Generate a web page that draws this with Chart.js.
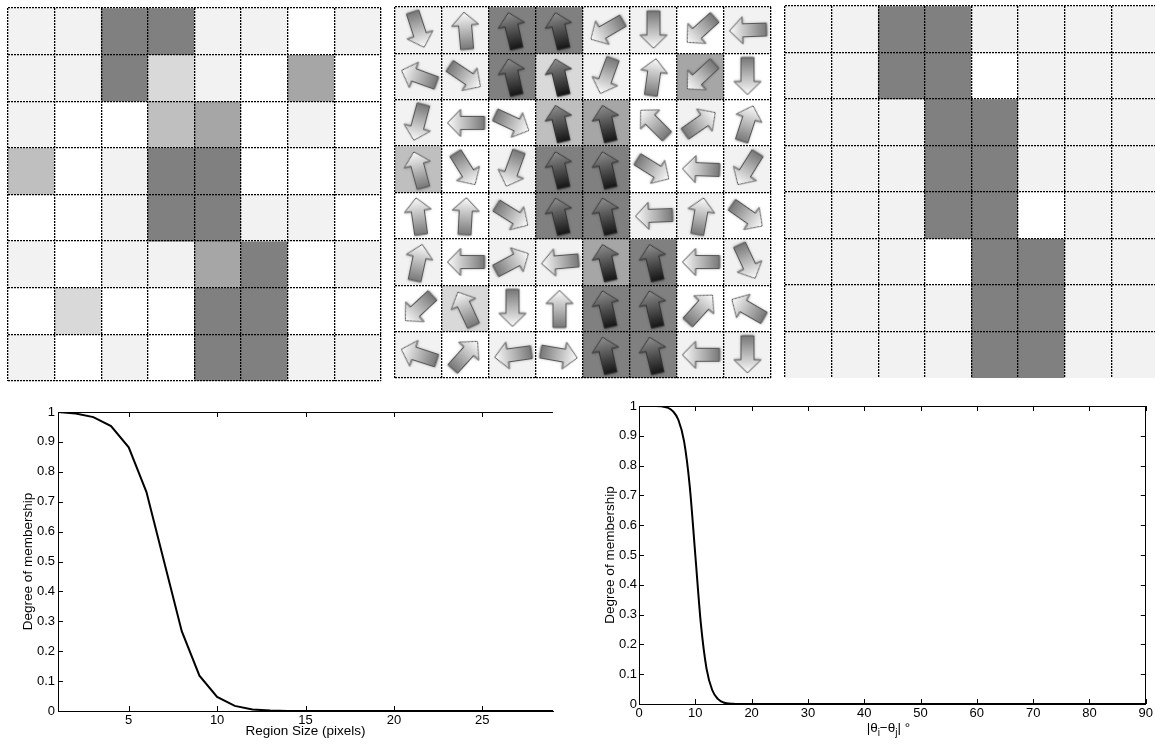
<!DOCTYPE html>
<html>
<head>
<meta charset="utf-8">
<script src="https://cdn.jsdelivr.net/npm/chart.js@4.4.1/dist/chart.umd.min.js"></script>
<style>
  html, body { margin: 0; padding: 0; background: #fff; overflow: hidden; }
  body { width: 1155px; height: 745px; position: relative; }
  canvas { position: absolute; }
</style>
</head>
<body>
<canvas id="grid-membership" width="390" height="390" style="left:0;top:0"></canvas>
<canvas id="grid-orient" width="392" height="390" style="left:387px;top:0"></canvas>
<canvas id="grid-result" width="390" height="390" style="left:777px;top:0"></canvas>
<canvas id="size-curve" width="560" height="350" style="left:0;top:395px"></canvas>
<canvas id="angle-curve" width="575" height="350" style="left:580px;top:395px"></canvas>
<script>
// grid columns (8x8 cells)
const gridCols = ['c1', 'c2', 'c3', 'c4', 'c5', 'c6', 'c7', 'c8'];

// darkness of each cell, 0 = white, 0.5 = mid grey
const membershipGrid = [
    [0.05, 0.05, 0.5, 0.5, 0.05, 0.05, 0, 0.05],
    [0.05, 0.05, 0.5, 0.15, 0.05, 0, 0.35, 0],
    [0.05, 0, 0, 0.25, 0.35, 0, 0.05, 0],
    [0.25, 0, 0.05, 0.5, 0.5, 0, 0, 0.05],
    [0, 0, 0.05, 0.5, 0.5, 0.05, 0.05, 0],
    [0.05, 0, 0.05, 0.05, 0.35, 0.5, 0, 0.05],
    [0, 0.15, 0, 0, 0.5, 0.5, 0, 0],
    [0.05, 0, 0.05, 0, 0.5, 0.5, 0.05, 0.05]
];

const resultGrid = [
    [0.05, 0.05, 0.5, 0.5, 0.05, 0.05, 0.05, 0.05],
    [0.05, 0.05, 0.5, 0.5, 0, 0.05, 0.05, 0.05],
    [0.05, 0.05, 0.05, 0.5, 0.5, 0.05, 0.05, 0.05],
    [0.05, 0.05, 0.05, 0.5, 0.5, 0.05, 0.05, 0.05],
    [0.05, 0.05, 0.05, 0.5, 0.5, 0, 0.05, 0.05],
    [0.05, 0.05, 0.05, 0, 0.5, 0.5, 0.05, 0.05],
    [0.05, 0.05, 0.05, 0.05, 0.5, 0.5, 0.05, 0.05],
    [0.05, 0.05, 0.05, 0.05, 0.5, 0.5, 0.05, 0.05]
];

// arrow direction per cell, degrees clockwise from "up"
const arrowAngles = [
    [162, -5, -13, -13, 240, 180, 228, 268],
    [290, 124, -13, -13, 200, 8, 227, 180],
    [195, 270, 115, -13, -13, 315, 55, 18],
    [345, 148, 200, -13, -13, 122, 272, 212],
    [352, 3, 122, -13, -13, 268, 10, 125],
    [12, 270, 62, 265, -13, -13, 270, 155],
    [227, 335, 180, 0, -13, -13, 42, 300],
    [288, 42, 262, 100, -13, -13, 270, 180]
];

// membership vs region size
const sizeX = [1, 2, 3, 4, 5, 6, 7, 8, 9, 10, 11, 12, 13, 14, 15, 16, 17, 18, 19, 20, 21, 22, 23, 24, 25, 26, 27, 28, 29];
const sizeMembership = [1.0, 0.995, 0.983, 0.953, 0.882, 0.733, 0.5, 0.267, 0.118, 0.047, 0.017, 0.005, 0.0015, 0.0004, 0.0001,
    0, 0, 0, 0, 0, 0, 0, 0, 0, 0, 0, 0, 0, 0];
const sizeTicks = [5, 10, 15, 20, 25];

// membership vs orientation difference
const angleX = [0, 1, 2, 3, 4, 5, 6, 7, 8, 9, 10, 11, 12, 13, 14, 15, 16, 17, 18, 19, 20, 90];
const angleMembership = [1, 1, 1, 1, 0.999, 0.995, 0.983, 0.953, 0.882, 0.733, 0.5, 0.267, 0.118, 0.047, 0.017, 0.005, 0.0015, 0.0004, 0.0001, 0, 0, 0];
const angleTicks = [0, 10, 20, 30, 40, 50, 60, 70, 80, 90];

const membershipTicks = [0, 0.1, 0.2, 0.3, 0.4, 0.5, 0.6, 0.7, 0.8, 0.9, 1];
const membershipTickLabels = ['0', '0.1', '0.2', '0.3', '0.4', '0.5', '0.6', '0.7', '0.8', '0.9', '1'];
const angleTitleParts = [['|\u03b8', false], ['i', true], ['\u2212\u03b8', false], ['j', true], ['| \u00b0', false]];

Chart.defaults.font.family = "'Liberation Sans', Arial, Helvetica, sans-serif";
Chart.defaults.color = '#000';

const shade = (v) => {
    const g = Math.round(255 * (1 - v));
    return `rgb(${g},${g},${g})`;
};

// block arrow used as point style
function makeArrow(dark) {
    const c = document.createElement('canvas');
    c.width = 46;
    c.height = 46;
    const g = c.getContext('2d');
    g.translate(23, 23);
    const grad = g.createLinearGradient(0, -18, 0, 19);
    if (dark) {
        grad.addColorStop(0, '#8e8e8e');
        grad.addColorStop(1, '#141414');
    } else {
        grad.addColorStop(0, '#fbfbfb');
        grad.addColorStop(1, '#777');
    }
    g.beginPath();
    g.moveTo(0, -18);
    g.lineTo(13.5, -5);
    g.lineTo(6.5, -5);
    g.lineTo(6.5, 19);
    g.lineTo(-6.5, 19);
    g.lineTo(-6.5, -5);
    g.lineTo(-13.5, -5);
    g.closePath();
    g.shadowColor = 'rgba(0,0,0,0.35)';
    g.shadowBlur = 3;
    g.shadowOffsetY = 1;
    g.fillStyle = grad;
    g.fill();
    g.shadowColor = 'rgba(0,0,0,0)';
    g.strokeStyle = dark ? '#333' : '#555';
    g.lineWidth = 1;
    g.stroke();
    return c;
}
const darkArrow = makeArrow(true);
const lightArrow = makeArrow(false);

function gridChart(id, levels, pad, extra, hideBottom) {
    const datasets = levels.map((row, r) => ({
        type: 'bar',
        data: row.map(() => [r, r + 1]),
        backgroundColor: row.map(shade),
        borderWidth: 0,
        barPercentage: 1,
        categoryPercentage: 1,
        grouped: false,
        order: 2
    }));
    if (extra) datasets.push(extra);

    const gridOpts = {
        offset: true,
        drawTicks: false,
        lineWidth: 1.3,
        z: 1,
        color: (c) => (hideBottom && c.tick && c.tick.value === 8) ? 'rgba(0,0,0,0)' : '#000'
    };
    return new Chart(document.getElementById(id), {
        type: 'bar',
        data: { labels: gridCols, datasets },
        options: {
            animation: false,
            responsive: false,
            events: [],
            layout: { padding: pad, autoPadding: false },
            plugins: { legend: { display: false }, tooltip: { enabled: false } },
            scales: {
                x: {
                    type: 'category',
                    offset: true,
                    ticks: { display: false },
                    border: { display: false, dash: [2, 1] },
                    grid: gridOpts,
                    afterFit: (s) => { s.height = 0; }
                },
                y: {
                    type: 'linear',
                    min: 0,
                    max: 8,
                    reverse: true,
                    ticks: { display: false, stepSize: 1 },
                    border: { display: false, dash: [2, 1] },
                    grid: Object.assign({}, gridOpts, { offset: false }),
                    afterFit: (s) => { s.width = 0; }
                }
            }
        }
    });
}

gridChart('grid-membership', membershipGrid, { left: 8, top: 8, right: 9, bottom: 9 });

const arrowPoints = [];
arrowAngles.forEach((row, r) => row.forEach((a, c) => {
    arrowPoints.push({ x: gridCols[c], y: r + 0.5, angle: a, dark: resultGrid[r][c] >= 0.5 });
}));
gridChart('grid-orient', membershipGrid, { left: 8, top: 7, right: 8, bottom: 12 }, {
    type: 'scatter',
    data: arrowPoints,
    order: 0,
    pointRadius: 20,
    pointStyle: (c) => (c.raw && c.raw.dark) ? darkArrow : lightArrow,
    rotation: (c) => c.raw ? c.raw.angle : 0
});

gridChart('grid-result', resultGrid, { left: 8, top: 6, right: 9, bottom: 12 }, null, true);

// matlab style box: top/right lines and inward tick marks
const boxTicks = {
    id: 'boxTicks',
    afterDatasetsDraw(chart, args, opts) {
        const { ctx, chartArea: a, scales: { x, y } } = chart;
        const L = 5;
        ctx.save();
        ctx.strokeStyle = '#000';
        ctx.lineWidth = 1;
        ctx.beginPath();
        const top = Math.round(a.top) + 0.5;
        ctx.moveTo(a.left, top);
        ctx.lineTo(a.right, top);
        if (opts.right) {
            const rx = Math.round(a.right) - 0.5;
            ctx.moveTo(rx, a.top);
            ctx.lineTo(rx, a.bottom);
        }
        x.ticks.forEach(t => {
            const px = Math.round(x.getPixelForValue(t.value)) + 0.5;
            ctx.moveTo(px, a.top);
            ctx.lineTo(px, a.top + L);
            ctx.moveTo(px, a.bottom);
            ctx.lineTo(px, a.bottom - L);
        });
        y.ticks.forEach(t => {
            const py = Math.round(y.getPixelForValue(t.value)) + 0.5;
            ctx.moveTo(a.left, py);
            ctx.lineTo(a.left + L, py);
            if (opts.right) {
                ctx.moveTo(a.right, py);
                ctx.lineTo(a.right - L, py);
            }
        });
        ctx.stroke();
        ctx.restore();
    }
};

// x label with subscripts for the angle chart
const thetaTitle = {
    id: 'thetaTitle',
    afterDraw(chart, args, opts) {
        if (!opts.parts) return;
        const { ctx, chartArea: a } = chart;
        const mainFont = "13.5px 'Liberation Sans', Arial, sans-serif";
        const subFont = "10px 'Liberation Sans', Arial, sans-serif";
        let total = 0;
        opts.parts.forEach(([t, sub]) => {
            ctx.font = sub ? subFont : mainFont;
            total += ctx.measureText(t).width;
        });
        let x = (a.left + a.right) / 2 + opts.shift - total / 2;
        const base = a.bottom + opts.dy;
        ctx.save();
        ctx.fillStyle = '#000';
        ctx.textBaseline = 'alphabetic';
        ctx.textAlign = 'left';
        opts.parts.forEach(([t, sub]) => {
            ctx.font = sub ? subFont : mainFont;
            ctx.fillText(t, x, sub ? base + 4 : base);
            x += ctx.measureText(t).width;
        });
        ctx.restore();
    }
};

function curveChart(id, xs, ys, cfg) {
    return new Chart(document.getElementById(id), {
        type: 'line',
        data: {
            datasets: [{
                data: xs.map((x, i) => ({ x, y: ys[i] })),
                borderColor: '#000',
                borderWidth: 2,
                pointRadius: 0,
                tension: 0,
                cubicInterpolationMode: cfg.smooth ? 'monotone' : 'default'
            }]
        },
        options: {
            animation: false,
            responsive: false,
            events: [],
            layout: { padding: cfg.pad, autoPadding: false },
            plugins: {
                legend: { display: false },
                tooltip: { enabled: false },
                boxTicks: { right: cfg.right },
                thetaTitle: cfg.theta || {}
            },
            scales: {
                x: {
                    type: 'linear',
                    min: cfg.xMin,
                    max: cfg.xMax,
                    afterBuildTicks: (s) => { s.ticks = cfg.xTicks.map(v => ({ value: v })); },
                    ticks: { padding: cfg.xPad, font: { size: 13 }, maxRotation: 0, autoSkip: false },
                    grid: { display: false, drawTicks: false },
                    border: { display: true, color: '#000', width: 1 },
                    title: cfg.xTitle ? {
                        display: true,
                        text: cfg.xTitle,
                        font: { size: 13.5 },
                        padding: { top: 0, bottom: 6 }
                    } : { display: false },
                    afterFit: (s) => { s.height = cfg.xHeight; }
                },
                y: {
                    type: 'linear',
                    min: 0,
                    max: 1,
                    afterBuildTicks: (s) => { s.ticks = membershipTicks.map(v => ({ value: v })); },
                    ticks: {
                        padding: cfg.yPad,
                        font: { size: 13 },
                        autoSkip: false,
                        callback: (v, i) => membershipTickLabels[i]
                    },
                    grid: { display: false, drawTicks: false },
                    border: { display: true, color: '#000', width: 1 },
                    title: {
                        display: true,
                        text: 'Degree of membership',
                        font: { size: 13.5 },
                        padding: { top: cfg.yTitlePad, bottom: 0 }
                    },
                    afterFit: (s) => { s.width = cfg.yWidth; }
                }
            }
        },
        plugins: [boxTicks, thetaTitle]
    });
}

curveChart('size-curve', sizeX, sizeMembership, {
    pad: { left: 0, top: 17, right: 7, bottom: 0 },
    xMin: 1, xMax: 29, xTicks: sizeTicks,
    xPad: 2, yPad: 3, xHeight: 34, yWidth: 58, yTitlePad: 20,
    xTitle: 'Region Size (pixels)',
    right: false, smooth: false
});

curveChart('angle-curve', angleX, angleMembership, {
    pad: { left: 0, top: 11, right: 8, bottom: 0 },
    xMin: 0, xMax: 90, xTicks: angleTicks,
    xPad: 2, yPad: 2, xHeight: 41, yWidth: 59, yTitlePad: 22,
    xTitle: null,
    right: true, smooth: true,
    theta: { parts: angleTitleParts, shift: -4, dy: 27.5 }
});
</script>
</body>
</html>
